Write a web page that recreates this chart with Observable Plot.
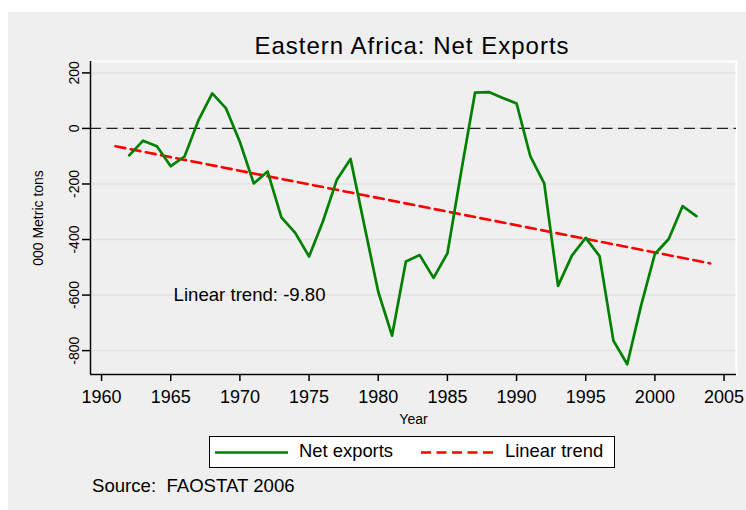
<!DOCTYPE html>
<html>
<head>
<meta charset="utf-8">
<script src="https://cdn.jsdelivr.net/npm/d3@7"></script>
<script src="https://cdn.jsdelivr.net/npm/@observablehq/plot@0.6"></script>
<style>
  html, body { margin: 0; padding: 0; background: #ffffff; }
  #page { position: relative; width: 746px; height: 510px; overflow: hidden;
          font-family: "Liberation Sans", Arial, sans-serif; color: #000; }
  #bg { position: absolute; left: 8px; top: 12px; width: 738px; height: 498px; background: #efefef; }
  #title { position: absolute; left: 112px; width: 600px; top: 34px; text-align: center;
           font-size: 24px; line-height: 24px; letter-spacing: 1px; white-space: nowrap; }
  #chart { position: absolute; left: 8px; top: 50px; }
  #legend { position: absolute; left: 209px; top: 436px; width: 406px; height: 32px; box-sizing: border-box;
            background: #fff; border: 1px solid #000; }
  .lg-text { position: absolute; font-size: 18.4px; line-height: 18px; top: 442px; white-space: nowrap; }
  .lg-line { position: absolute; top: 449px; width: 74px; height: 7px; }
  #caption { position: absolute; left: 92px; top: 477px; font-size: 18.6px; line-height: 18px; white-space: pre; }
</style>
</head>
<body>
<div id="page">
  <div id="bg"></div>
  <div id="title">Eastern Africa: Net Exports</div>
  <div id="chart"></div>
  <div id="legend"></div>
  <svg class="lg-line" style="left:215px" width="74" height="7"><line x1="0" x2="73" y1="3.5" y2="3.5" stroke="#008000" stroke-width="2.6"/></svg>
  <div class="lg-text" style="left:299px">Net exports</div>
  <svg class="lg-line" style="left:421px" width="74" height="7"><line x1="0" x2="74" y1="3.5" y2="3.5" stroke="#ff0000" stroke-width="2.6" stroke-dasharray="10,5.5"/></svg>
  <div class="lg-text" style="left:505px">Linear trend</div>
  <div id="caption">Source:  FAOSTAT 2006</div>
</div>
<script>
// ---- data ----
const years = [1962, 1963, 1964, 1965, 1966, 1967, 1968, 1969, 1970, 1971,
               1972, 1973, 1974, 1975, 1976, 1977, 1978, 1979, 1980, 1981,
               1982, 1983, 1984, 1985, 1986, 1987, 1988, 1989, 1990, 1991,
               1992, 1993, 1994, 1995, 1996, 1997, 1998, 1999, 2000, 2001,
               2002, 2003];
const netExports = [-97, -44, -64, -136, -101, 29, 126, 72, -49, -198,
                    -155, -320, -376, -461, -335, -186, -110, -350, -588, -746,
                    -479, -456, -538, -450, -155, 129, 131, 110, 90, -101,
                    -198, -567, -458, -394, -460, -764, -849, -638, -452, -398,
                    -280, -316];
const trendYears = [1961, 2004];
const trendValues = [-64, -486];
const xTicks = [1960, 1965, 1970, 1975, 1980, 1985, 1990, 1995, 2000, 2005];
const yTicks = [-800, -600, -400, -200, 0, 200];
const xDomain = [1959.2, 2005.9];
const yDomain = [-886, 241];
const zeroLine = [0];
const noteText = ["Linear trend: -9.80"];
const noteYear = [1970.7];
const noteValue = [-600];

const series = years.map((year, i) => ({year, value: netExports[i]}));
const trend = trendYears.map((year, i) => ({year, value: trendValues[i]}));
const notes = noteText.map((text, i) => ({text, year: noteYear[i], value: noteValue[i]}));

const chart = Plot.plot({
  width: 738,
  height: 375,
  marginTop: 11,
  marginBottom: 51,
  marginLeft: 82,
  marginRight: 10,
  style: {background: "transparent", fontFamily: '"Liberation Sans", Arial, sans-serif', color: "#000", overflow: "visible"},
  x: {domain: xDomain},
  y: {domain: yDomain},
  marks: [
    Plot.gridY(yTicks, {stroke: "#e2e2e2", strokeOpacity: 1, strokeWidth: 1.5}),
    Plot.frame({stroke: "#ffffff", strokeWidth: 2}),
    Plot.ruleY(zeroLine, {stroke: "#222", strokeWidth: 1.2, strokeDasharray: "11,5.5"}),
    Plot.line(trend, {x: "year", y: "value", stroke: "#ff0000", strokeWidth: 2.6, strokeDasharray: "10,5.5"}),
    Plot.line(series, {x: "year", y: "value", stroke: "#008000", strokeWidth: 2.7}),
    Plot.text(notes, {x: "year", y: "value", text: "text", fontSize: 18.6, fill: "#000"}),
    Plot.ruleX([xDomain[0]], {stroke: "#000", strokeWidth: 1.5}),
    Plot.ruleY([yDomain[0]], {stroke: "#000", strokeWidth: 1.5}),
    Plot.axisX(xTicks, {tickFormat: d => String(d), tickSize: 7, tickPadding: 9, fontSize: 18, strokeWidth: 1.5, label: null}),
    Plot.axisX([], {label: "Year", labelAnchor: "center", labelOffset: 49, labelArrow: "none", fontSize: 14}),
    Plot.axisY(yTicks, {tickFormat: d => String(d), tickRotate: -90, tickSize: 8, tickPadding: 4, fontSize: 14, strokeWidth: 1.5,
                        label: "000 Metric tons", labelAnchor: "center", labelOffset: 57, labelArrow: "none"})
  ]
});
document.getElementById("chart").appendChild(chart);
</script>
</body>
</html>
